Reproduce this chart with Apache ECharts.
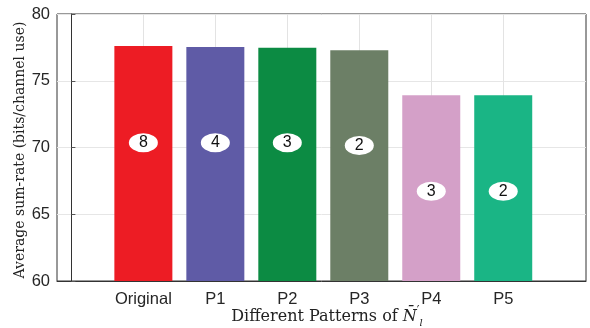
<!DOCTYPE html>
<html><head><meta charset="utf-8">
<script src="https://cdn.jsdelivr.net/npm/echarts@6/dist/echarts.min.js"></script>
<style>html,body{margin:0;padding:0;background:#fff}#c{width:590px;height:328px}</style>
</head><body><div id="c"></div>
<script>
const categories = ['Original', 'P1', 'P2', 'P3', 'P4', 'P5'];
const sumRates = [77.6, 77.52, 77.47, 77.28, 73.92, 73.92];
const patternCounts = [8, 4, 3, 2, 3, 2];
const countLabelY = [70.35, 70.35, 70.35, 70.15, 66.72, 66.72];
const barColors = ['#ED1C24', '#5F5BA6', '#0C8B43', '#6C7F66', '#D4A0C8', '#1AB585'];
const yTicks = [60, 65, 70, 75, 80];

const positions = categories.map((c, i) => i + 1);
const chart = echarts.init(document.getElementById('c'), null, {renderer: 'canvas'});
chart.setOption({
  animation: false,
  textStyle: {fontFamily: 'Liberation Sans'},
  grid: {left: 57, right: 4, top: 14, bottom: 47, show: true, borderColor: '#333', borderWidth: 1},
  xAxis: {
    type: 'value', min: -0.2, max: 7.15,
    axisLine: {show: true, lineStyle: {color: '#333'}},
    axisTick: {show: true, inside: true, length: 4, customValues: positions, lineStyle: {color: '#555'}},
    axisLabel: {show: true, customValues: positions, formatter: v => categories[Math.round(v) - 1] || '',
      fontFamily: 'Liberation Sans', fontSize: 16.5, color: '#262626', margin: 10},
    splitLine: {show: false}
  },
  yAxis: {
    type: 'value', min: 60, max: 80, interval: 5,
    axisLine: {show: true, lineStyle: {color: '#333'}},
    axisTick: {show: true, inside: true, length: 4, lineStyle: {color: '#555'}},
    axisLabel: {fontFamily: 'Liberation Sans', fontSize: 16.5, color: '#262626', margin: 7,
      formatter: v => yTicks.includes(v) ? String(v) : ''},
    splitLine: {show: true, lineStyle: {color: '#e6e6e6'}}
  },
  graphic: [
    {type: 'text', x: 327, y: 306,
      style: {
        align: 'center',
        text: '{t|Different Patterns of }{n|N̄}{p|′}{l|l}',
        rich: {
          t: {fontFamily: 'DejaVu Serif', fontSize: 16, fill: '#222', lineHeight: 22, verticalAlign: 'middle'},
          n: {fontFamily: 'DejaVu Serif', fontStyle: 'italic', fontSize: 16, fill: '#222', lineHeight: 22, verticalAlign: 'middle'},
          p: {fontFamily: 'DejaVu Serif', fontSize: 12, fill: '#222', lineHeight: 22, verticalAlign: 'top'},
          l: {fontFamily: 'DejaVu Serif', fontStyle: 'italic', fontSize: 10, fill: '#222', lineHeight: 22, verticalAlign: 'bottom'}
        }
      }
    },
    {type: 'text', x: 20, y: 150, rotation: Math.PI / 2,
      style: {text: 'Average sum-rate (bits/channel use)', fontFamily: 'DejaVu Serif', fontSize: 14,
        fill: '#222', align: 'center', verticalAlign: 'middle'}}
  ],
  series: [
    {type: 'custom', silent: true, z: 1,
      data: positions.map(p => [p]),
      renderItem: (params, api) => {
        const a = api.coord([api.value(0), 60]);
        const b = api.coord([api.value(0), 80]);
        return {type: 'line', shape: {x1: Math.round(a[0]) + 0.5, y1: a[1], x2: Math.round(b[0]) + 0.5, y2: b[1]},
          style: {stroke: '#e3e3e3', lineWidth: 1}};
      }},
    {type: 'bar', barWidth: 58, z: 2,
      data: sumRates.map((v, i) => ({value: [positions[i], v], itemStyle: {color: barColors[i]}}))},
    {type: 'scatter', symbol: 'circle', symbolSize: [29, 19], z: 3,
      itemStyle: {color: '#fff', opacity: 1},
      emphasis: {disabled: true},
      data: patternCounts.map((n, i) => ({value: [positions[i], countLabelY[i], n]})),
      label: {show: true, position: 'inside', formatter: p => String(p.value[2]),
        fontFamily: 'Liberation Sans', fontWeight: 'normal', fontSize: 16, color: '#111',
        textBorderWidth: 0, textBorderColor: 'transparent'}}
  ]
});
</script></body></html>
